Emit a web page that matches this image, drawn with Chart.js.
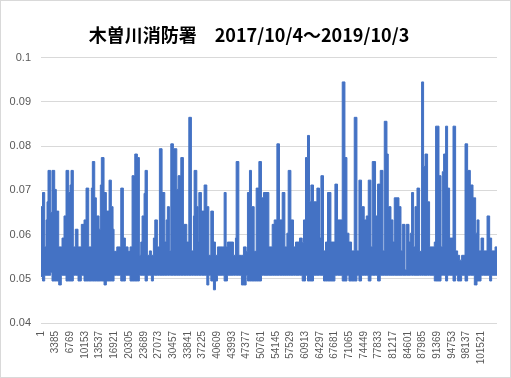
<!DOCTYPE html>
<html>
<head>
<meta charset="utf-8">
<script src="https://cdn.jsdelivr.net/npm/chart.js@4.4.1/dist/chart.umd.min.js"></script>
<style>
  html, body { margin: 0; padding: 0; background: #fff; }
  #wrap { width: 509px; height: 376px; border: 1px solid #d9d9d9; }
</style>
</head>
<body>
<div id="wrap"><canvas id="fireChart" width="509" height="376"></canvas></div>
<script>
// record number (10-minute samples) where each stretch starts, with the max / min reading in that stretch
const records = [1, 347, 855, 1154, 1384, 1615, 2238, 2538, 3161, 3530, 4083, 4683, 4845, 5306, 5768, 6390, 6690, 6921, 7452, 7913,
  8536, 9297, 9920, 10382, 11004, 11604, 11835, 12389, 12758, 13381, 13681, 13911, 14534, 15065, 15688, 16218, 16610, 16841, 17464, 18387,
  18987, 19448, 20071, 20532, 20994, 21617, 22216, 22678, 23001, 23301, 23762, 23993, 24523, 24985, 25446, 25908, 26231, 26830, 27292, 27915,
  28538, 28838, 29137, 29599, 29922, 30522, 31306, 31606, 32229, 32829, 33613, 34074, 34674, 35136, 35297, 35920, 36220, 36381, 36981, 37604,
  38227, 38688, 39150, 39750, 40211, 40672, 41757, 42218, 42680, 42979, 44364, 44825, 44987, 45609, 46209, 46671, 47294, 47593, 48055, 48516,
  49139, 49601, 50223, 50823, 51285, 52530, 53292, 53753, 54376, 54976, 55599, 56222, 56683, 56983, 57606, 58206, 58667, 59590, 60213, 60513,
  60974, 61435, 61897, 62220, 62820, 63604, 64204, 64527, 65127, 65588, 66049, 66834, 67757, 68356, 69441, 70064, 70525, 70986, 71586, 72209,
  72832, 73293, 73893, 74516, 74978, 75439, 76062, 76362, 77123, 77584, 78207, 78830, 79130, 79753, 80053, 80676, 81137, 81437, 82521, 82983,
  83283, 83906, 84206, 84828, 85128, 85428, 85890, 86213, 86674, 87274, 87735, 88197, 88520, 89119, 89581, 90665, 90965, 91749, 92211, 92511,
  92811, 93272, 93733, 94195, 94979, 95579, 96040, 96502, 96963, 97748, 98347, 98970, 99593, 99893, 100193, 100516, 100977, 101439, 102039, 102823,
  103424, 103884, 104669, 105120];

const highs = [0.0663, 0.0695, 0.0572, 0.0633, 0.0674, 0.0745, 0.065, 0.0745, 0.0702, 0.0653, 0.0572, 0.0572, 0.0592, 0.0642, 0.0745, 0.0695, 0.0712, 0.0745, 0.0572, 0.0612,
  0.0572, 0.0623, 0.0633, 0.0705, 0.0572, 0.0705, 0.0765, 0.0683, 0.0642, 0.0612, 0.0712, 0.0774, 0.0695, 0.0653, 0.0723, 0.0663, 0.0612, 0.0562, 0.0572, 0.0705,
  0.0592, 0.0572, 0.0562, 0.0572, 0.0733, 0.0782, 0.0774, 0.0553, 0.0583, 0.0642, 0.0693, 0.0745, 0.0553, 0.0563, 0.0553, 0.0592, 0.0633, 0.0572, 0.0794, 0.0695,
  0.0583, 0.0633, 0.0663, 0.0563, 0.0805, 0.0794, 0.0702, 0.0733, 0.0774, 0.0623, 0.0583, 0.0865, 0.0563, 0.0642, 0.0745, 0.0663, 0.0583, 0.0695, 0.0653, 0.0712,
  0.0663, 0.0553, 0.0653, 0.0583, 0.0553, 0.0572, 0.0572, 0.0695, 0.0572, 0.0583, 0.0553, 0.0592, 0.0765, 0.0553, 0.0553, 0.0572, 0.0562, 0.0695, 0.0745, 0.0663,
  0.0562, 0.0705, 0.0765, 0.0683, 0.0695, 0.0572, 0.0623, 0.0633, 0.0805, 0.0633, 0.0695, 0.0572, 0.0603, 0.0745, 0.0633, 0.0572, 0.0583, 0.0592, 0.0582, 0.0633,
  0.0774, 0.0824, 0.0674, 0.0712, 0.0674, 0.0705, 0.0592, 0.0733, 0.0563, 0.0583, 0.0695, 0.0583, 0.0714, 0.0633, 0.0945, 0.0774, 0.0603, 0.0583, 0.0563, 0.0865,
  0.0563, 0.0723, 0.0663, 0.0633, 0.0642, 0.0723, 0.0572, 0.0765, 0.0642, 0.0714, 0.0745, 0.0563, 0.0856, 0.0782, 0.0663, 0.0633, 0.0583, 0.0683, 0.0663, 0.0563,
  0.0623, 0.052, 0.0623, 0.0583, 0.0603, 0.0695, 0.0572, 0.0663, 0.0705, 0.0562, 0.0945, 0.0754, 0.0782, 0.0674, 0.0572, 0.0583, 0.0845, 0.0733, 0.0572, 0.0742,
  0.0782, 0.0845, 0.0705, 0.0592, 0.0845, 0.0563, 0.0553, 0.0542, 0.0553, 0.0805, 0.0745, 0.0712, 0.0683, 0.0683, 0.0603, 0.0633, 0.0563, 0.0592, 0.0563, 0.0642,
  0.0592, 0.0563, 0.0572, 0.0572];

const lows = [0.0505, 0.0495, 0.0508, 0.0508, 0.0508, 0.0508, 0.0515, 0.0495, 0.0495, 0.0495, 0.0486, 0.0508, 0.0508, 0.0508, 0.0495, 0.0495, 0.0495, 0.0495, 0.0508, 0.0508,
  0.0495, 0.0508, 0.0495, 0.0495, 0.0495, 0.0495, 0.0495, 0.0495, 0.0495, 0.0495, 0.0495, 0.0495, 0.0486, 0.0495, 0.0495, 0.0495, 0.0495, 0.0508, 0.0508, 0.0495,
  0.0495, 0.0508, 0.0508, 0.0495, 0.0495, 0.0495, 0.0495, 0.0508, 0.0508, 0.0508, 0.0508, 0.0495, 0.0508, 0.0508, 0.0495, 0.0508, 0.0508, 0.0508, 0.0508, 0.0508,
  0.0508, 0.0508, 0.0508, 0.0508, 0.0508, 0.0508, 0.0508, 0.0508, 0.0508, 0.0508, 0.0508, 0.0508, 0.0508, 0.0508, 0.0508, 0.0508, 0.0508, 0.0508, 0.0508, 0.0508,
  0.0486, 0.0508, 0.0495, 0.0475, 0.0495, 0.0508, 0.0508, 0.0495, 0.0495, 0.0508, 0.0508, 0.0508, 0.0508, 0.0508, 0.0486, 0.0486, 0.0508, 0.0495, 0.0495, 0.0495,
  0.0495, 0.0495, 0.0495, 0.0508, 0.0508, 0.0508, 0.0508, 0.0508, 0.0508, 0.0508, 0.0508, 0.0508, 0.0508, 0.0508, 0.0508, 0.0508, 0.0508, 0.0508, 0.0495, 0.0495,
  0.0508, 0.0495, 0.0495, 0.0495, 0.0508, 0.0508, 0.0508, 0.0508, 0.0495, 0.0495, 0.0495, 0.0495, 0.0508, 0.0508, 0.0495, 0.0495, 0.0508, 0.0495, 0.0495, 0.0495,
  0.0508, 0.0495, 0.0508, 0.0508, 0.0508, 0.0495, 0.0508, 0.0508, 0.0508, 0.0495, 0.0508, 0.0508, 0.0508, 0.0508, 0.0508, 0.0508, 0.0508, 0.0508, 0.0508, 0.0508,
  0.0508, 0.0508, 0.0508, 0.0508, 0.0508, 0.0508, 0.0508, 0.0508, 0.0508, 0.0508, 0.0508, 0.0508, 0.0508, 0.0508, 0.0508, 0.0495, 0.0495, 0.0495, 0.0508, 0.0508,
  0.0508, 0.0495, 0.0508, 0.0508, 0.0495, 0.0508, 0.0495, 0.0495, 0.0508, 0.0495, 0.0508, 0.0508, 0.0508, 0.0486, 0.0486, 0.0495, 0.0495, 0.0508, 0.0508, 0.0508,
  0.0495, 0.0508, 0.0508, 0.0508];

// category labels Excel prints on the x axis (every 3384th record)
const xTickLabels = [1, 3385, 6769, 10153, 13537, 16921, 20305, 23689, 27073, 30457, 33841, 37225, 40609, 43993, 47377, 50761,
  54145, 57529, 60913, 64297, 67681, 71065, 74449, 77833, 81217, 84601, 87985, 91369, 94753, 98137, 101521];

const yTicks = [0.04, 0.05, 0.06, 0.07, 0.08, 0.09, 0.1];

const blue = '#4472C4';
const tickFont = { family: "'Liberation Sans', Arial, sans-serif", size: 11 };

const lowData = records.map((r, i) => ({ x: r, y: lows[i] }));
const highData = records.map((r, i) => ({ x: r, y: highs[i] }));

const config = {
  type: 'line',
  data: {
    datasets: [{
      label: 'min',
      data: lowData,
      borderColor: blue,
      borderWidth: 1,
      stepped: true,
      pointRadius: 0,
      fill: false
    }, {
      label: 'max',
      data: highData,
      borderColor: blue,
      backgroundColor: blue,
      borderWidth: 1,
      stepped: true,
      pointRadius: 0,
      fill: '-1'
    }]
  },
  options: {
    responsive: false,
    animation: false,
    layout: { padding: { top: 0, left: 0, right: 13, bottom: 0 } },
    plugins: {
      legend: { display: false },
      tooltip: { enabled: false },
      title: {
        display: true,
        text: '木曽川消防署　2017/10/4～2019/10/3',
        color: '#000',
        font: { family: "'Noto Sans CJK JP', sans-serif", size: 18, weight: 'bold' },
        padding: { top: 23, bottom: 12 }
      }
    },
    scales: {
      x: {
        type: 'linear',
        min: 1,
        max: 105120,
        afterBuildTicks: (scale) => {
          scale.ticks = xTickLabels.map(v => ({ value: v }));
        },
        afterFit: (scale) => { scale.height = 54; },
        grid: { display: false, drawTicks: false },
        border: { display: false },
        ticks: {
          autoSkip: false,
          maxRotation: 90,
          minRotation: 90,
          padding: 8,
          color: '#595959',
          font: { family: "'Liberation Sans', Arial, sans-serif", size: 10 },
          callback: (v) => String(v)
        }
      },
      y: {
        min: 0.04,
        max: 0.1,
        afterBuildTicks: (scale) => {
          scale.ticks = yTicks.map(v => ({ value: v }));
        },
        afterFit: (scale) => { scale.width = 40; },
        grid: { color: '#d9d9d9', lineWidth: 1, drawTicks: false },
        border: { display: false },
        ticks: {
          padding: 10,
          color: '#595959',
          font: tickFont,
          callback: (v) => String(v)
        }
      }
    }
  }
};

new Chart(document.getElementById('fireChart'), config);
</script>
</body>
</html>
